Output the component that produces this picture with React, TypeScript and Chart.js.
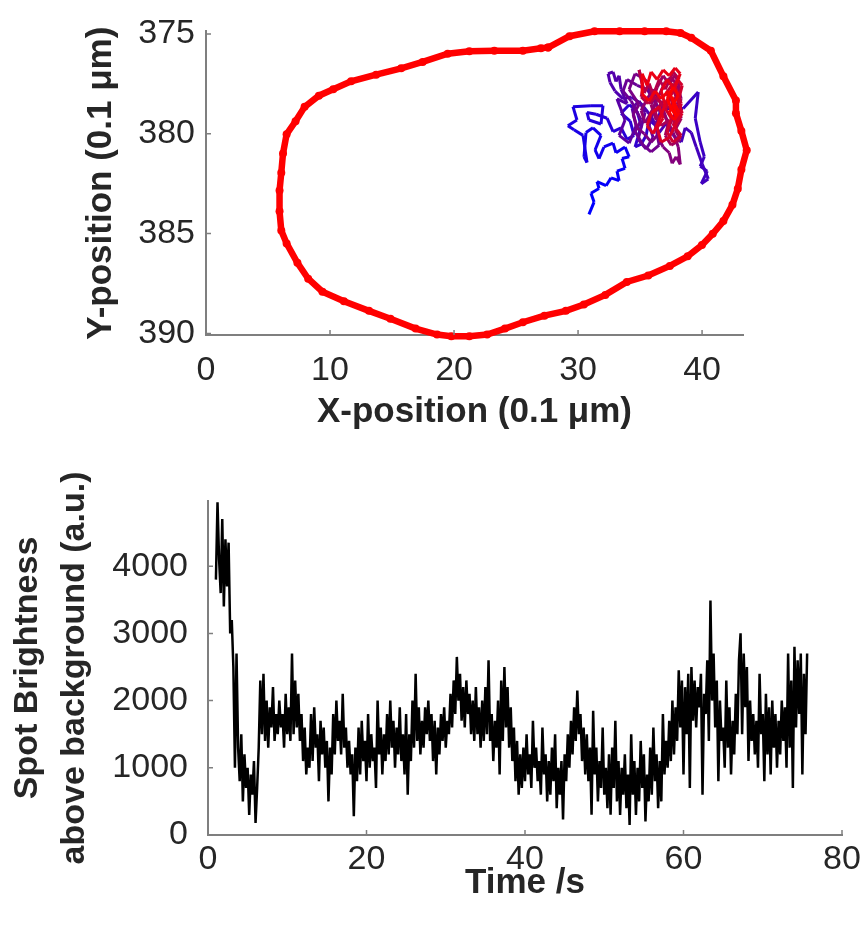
import React, { useEffect, useRef } from "react";
import { Chart, registerables } from "chart.js";
Chart.register(...registerables);

// ---------- Top panel: cell outline (red) ----------
const loopX = [27.58, 29.31, 31.33, 33.35, 35.37, 37.11, 38.26, 39.13, 40.71, 41.72, 42.73, 42.73, 43.17, 43.6, 43.17, 42.88, 42.45, 41.72, 40.86, 39.99, 38.84, 37.4, 35.66, 33.93, 32.2, 30.47, 29.02, 27.29, 25.55, 24.11, 22.67, 21.23, 19.78, 18.63, 16.9, 14.87, 13.14, 11.12, 9.39, 8.24, 7.37, 6.5, 6.07, 5.93, 5.93, 6.07, 6.21, 6.5, 7.22, 7.95, 9.1, 10.26, 11.7, 13.72, 15.74, 17.47, 19.49, 21.23, 23.25, 25.55, 27.0, 27.58];
const loopY = [375.68, 375.11, 374.86, 374.86, 374.86, 374.86, 374.95, 375.19, 375.84, 377.12, 378.33, 378.97, 379.86, 380.82, 381.79, 382.75, 383.56, 384.37, 385.01, 385.57, 386.14, 386.62, 387.1, 387.42, 388.07, 388.55, 388.87, 389.11, 389.44, 389.76, 390.06, 390.14, 390.14, 390.06, 389.76, 389.27, 388.87, 388.39, 387.91, 387.26, 386.46, 385.49, 384.85, 383.88, 382.84, 381.95, 380.99, 380.02, 379.37, 378.65, 378.09, 377.77, 377.37, 377.04, 376.72, 376.4, 375.99, 375.87, 375.84, 375.84, 375.71, 375.68];

// ---------- Top panel: spot trajectory (blue -> red in time) ----------
const trajX = [30.88, 31.29, 31.04, 31.69, 31.53, 32.26, 32.66, 33.31, 33.14, 33.79, 33.55, 34.12, 33.79, 33.06, 32.82, 32.09, 31.69, 31.37, 31.85, 31.2, 30.64, 30.48, 30.72, 30.4, 29.67, 29.18, 29.91, 29.59, 31.04, 32.01, 31.85, 30.88, 30.72, 31.45, 32.34, 32.82, 33.47, 33.95, 34.52, 34.2, 33.47, 34.12, 34.76, 35.09, 34.6, 35.09, 35.49, 35.73, 36.3, 36.7, 37.51, 38.48, 39.69, 39.45, 39.85, 40.18, 39.85, 40.42, 39.94, 40.5, 40.02, 39.53, 39.13, 38.64, 38.32, 37.67, 37.11, 36.54, 35.89, 35.09, 34.28, 33.63, 32.98, 32.58, 32.42, 32.82, 33.06, 33.31, 33.47, 33.95,
  33.14, 33.79, 33.31, 34.12, 34.68, 34.36, 34.92, 35.41, 34.84, 35.49, 36.06, 35.73, 36.22, 35.57, 34.76, 33.95, 33.63, 34.28, 35.09, 34.6, 35.25, 35.89, 36.54, 36.22, 36.7, 36.06, 35.41, 34.6, 34.12, 34.92,
  34.44, 34.76, 35.33, 35.89, 36.38, 36.86, 37.35, 37.59, 37.91, 38.24, 38.08, 37.67, 37.11, 36.7, 36.06, 35.57, 35.09, 35.41, 36.06, 36.54, 37.03, 37.51, 38.0, 38.32, 37.83, 37.35, 36.86, 36.3, 35.89, 36.38, 36.86, 37.35, 37.83, 38.24, 38.0, 38.32, 37.83, 38.24, 37.51, 37.03, 37.35, 36.7, 36.22, 36.86, 37.35, 37.91, 37.59, 38.16, 37.67, 37.03, 36.54, 36.06, 35.73, 35.33, 35.09, 34.92, 35.25, 35.09, 35.65, 36.3, 36.86, 37.35, 37.91, 38.16, 37.67, 38.0, 37.51, 37.11, 37.67, 38.0,
  38.32, 37.83, 38.32, 37.67, 37.19, 37.51, 37.03, 37.51, 38.0, 38.4, 38.08, 38.4, 37.91, 37.35, 36.7, 36.38, 36.86, 36.54, 35.89, 35.57, 36.06, 36.54, 37.03, 36.7, 37.19, 37.75, 38.24, 37.83, 37.35, 36.86, 36.38, 35.89, 35.57, 35.17, 35.17, 35.73, 36.22, 36.7, 37.27, 37.75, 38.16, 37.75, 37.35, 37.67, 38.08, 37.67, 37.19, 37.51, 37.91, 37.59];
const trajY = [384.04, 383.42, 382.98, 382.74, 382.4, 382.6, 382.21, 382.35, 381.87, 381.73, 381.24, 381.15, 380.66, 380.95, 380.47, 380.66, 381.24, 380.81, 380.08, 379.7, 379.94, 381.15, 381.44, 380.08, 379.8, 379.6, 379.31, 378.64, 378.59, 378.59, 379.51, 379.31, 378.93, 379.02, 379.22, 379.89, 379.7, 380.28, 380.08, 379.36, 378.97, 378.54, 378.88, 379.6, 380.66, 380.52, 380.08, 379.31, 379.6, 378.73, 378.73, 378.73, 377.91, 379.22, 380.42, 381.15, 381.63, 381.87, 382.5, 382.26, 381.53, 380.66, 379.94, 379.7, 380.42, 380.08, 379.46, 379.94, 379.12, 378.49, 378.15, 378.25, 377.86, 377.43, 376.99, 376.9, 377.38, 377.09, 377.77, 378.49,
  378.25, 379.31, 380.08, 380.47, 379.6, 378.73, 378.35, 378.93, 380.28, 380.76, 380.18, 379.6, 378.44, 377.77, 377.57, 377.28, 377.86, 378.35, 379.31, 379.89, 380.57, 380.91, 380.57, 379.51, 379.02, 378.15, 377.28, 376.99, 377.77, 378.54,
  379.02, 379.7, 379.99, 380.42, 380.08, 380.66, 380.95, 381.48, 381.15, 381.53, 380.66, 379.94, 379.22, 378.49, 377.77, 378.25, 378.83, 379.46, 378.73, 378.06, 377.38, 377.18, 377.57, 378.25, 378.97, 379.6, 378.93, 379.31, 378.54, 377.67, 377.09, 377.53, 377.04, 377.77, 378.54, 379.22, 379.8, 380.28, 380.57, 380.08, 379.31, 379.6, 378.93, 378.35, 378.73, 378.15, 377.67, 377.28, 376.9, 377.77, 377.28, 378.06, 377.48, 377.96, 377.28, 376.8, 377.67, 378.15, 378.49, 378.15, 378.64, 378.15, 378.64, 379.31, 379.6, 378.83, 378.35, 377.96, 377.48, 377.86,
  378.49, 379.7, 380.08, 380.42, 379.94, 379.22, 378.73, 378.06, 377.28, 377.57, 378.35, 378.97, 379.46, 380.18, 380.42, 379.7, 379.22, 378.64, 378.97, 379.6, 379.99, 379.31, 378.54, 377.86, 377.28, 377.77, 376.99, 376.7, 377.09, 376.8, 377.28, 376.9, 377.57, 376.99, 378.01, 378.35, 377.86, 378.25, 377.86, 378.44, 378.93, 379.31, 378.93, 378.54, 378.06, 377.67, 378.25, 378.73, 379.12, 378.15];

const topXTicks = [0, 10, 20, 30, 40];
const topYTicks = [375, 380, 385, 390];

// ---------- Bottom panel: spot brightness ----------
const brightnessStartTime = 1.0; // s
const frameInterval = 0.2; // s
const brightness = [
  3800, 4950, 4100, 3600, 4700, 3400, 4400, 3700, 4350, 3000,
  3200, 2500, 1000, 2700, 1300, 800, 1500, 500, 1200, 700,
  1000, 300, 900, 600, 1100, 180, 700, 1300, 2300, 1500,
  2400, 1400, 2000, 1300, 1900, 1600, 2200, 1400, 1800, 1500,
  2000, 1600, 1800, 1300, 2100, 1500, 1900, 1400, 2700, 1500,
  2300, 1600, 2100, 1400, 1800, 1100, 1600, 900, 1300, 1000,
  1800, 1100, 1900, 1300, 1500, 800, 1700, 1200, 1600, 1000,
  1400, 500, 1300, 900, 1800, 1200, 2000, 1400, 1700, 1200,
  2100, 1300, 1600, 1000, 1400, 900, 1200, 280, 1300, 800,
  1600, 900, 1700, 1100, 1400, 800, 1800, 1000, 1500, 1100,
  1300, 700, 2000, 1200, 1600, 900, 1500, 1100, 1800, 1200,
  2000, 1300, 1700, 1000, 1600, 1200, 1900, 1100, 1500, 900,
  1800, 600, 1500, 1100, 2000, 1300, 2400, 1400, 1900, 1200,
  1700, 1300, 1900, 1500, 2000, 1400, 1800, 1100, 1700, 900,
  1600, 1200, 1800, 1400, 1900, 1300, 1700, 1500, 2100, 1600,
  2300, 1800, 2650, 2000, 2400, 1700, 2200, 1600, 2300, 1800,
  2100, 1500, 2000, 1400, 2200, 1500, 1900, 1300, 2000, 1400,
  2200, 1500, 2600, 1400, 1800, 1100, 1700, 1300, 2000, 900,
  2300, 1400, 2500, 1600, 2200, 1300, 1900, 1100, 1600, 800,
  1400, 600, 1200, 700, 1300, 800, 1500, 900, 1200, 700,
  1700, 1000, 1300, 800, 1100, 600, 1600, 900, 1200, 500,
  1100, 600, 1300, 800, 1500, 400, 1000, 600, 1100, 230,
  1200, 800, 1500, 1000, 1700, 1200, 1900, 1400, 2150, 1500,
  1800, 1100, 1600, 900, 1500, 800, 1300, 300, 1850, 900,
  1300, 500, 1100, 700, 1600, 600, 1000, 400, 1200, 300,
  1300, 700, 1700, 500, 1100, 300, 1000, 600, 1200, 400,
  900, 150, 1500, 600, 1100, 300, 1000, 500, 1400, 700,
  1200, 200, 900, 500, 1300, 600, 1600, 800, 1200, 400,
  1100, 500, 1800, 900, 1400, 1000, 1700, 1100, 2000, 1200,
  1900, 1400, 2450, 1600, 2300, 900, 2200, 1500, 2400, 700,
  2500, 1700, 2300, 1600, 2200, 1900, 2400, 600, 2100, 1800,
  2600, 1400, 3490, 2000, 2700, 1600, 2300, 800, 2000, 1400,
  1600, 1000, 2300, 1300, 1900, 900, 1700, 1200, 2100, 1500,
  2600, 3000, 1500, 2700, 1900, 2500, 1100, 2000, 1400, 1800,
  1200, 1700, 1000, 2400, 1500, 1800, 800, 2100, 1200, 1900,
  900, 2000, 1300, 1800, 1000, 1700, 1200, 2000, 1400, 1900,
  1000, 2700, 1300, 2300, 700, 2800, 1600, 2600, 1800, 2700,
  900, 2400, 1500, 2700,
];
const bottomXTicks = [0, 20, 40, 60, 80];
const bottomYTicks = [0, 1000, 2000, 3000, 4000];

const FONT = '"Liberation Sans", Arial, Helvetica, sans-serif';
const TICK_COLOR = "#262626";
const AXIS_COLOR = "#7f7f7f";

const inwardTicks = {
  id: "inwardTicks",
  afterDraw(chart: any) {
    const { ctx, chartArea, scales } = chart;
    const xs = scales.x;
    const ys = scales.y;
    ctx.save();
    ctx.strokeStyle = AXIS_COLOR;
    ctx.lineWidth = 1.5;
    ctx.beginPath();
    xs.ticks.forEach((t: any) => {
      const px = xs.getPixelForValue(t.value);
      ctx.moveTo(px, chartArea.bottom);
      ctx.lineTo(px, chartArea.bottom - 5);
    });
    ys.ticks.forEach((t: any) => {
      const py = ys.getPixelForValue(t.value);
      ctx.moveTo(chartArea.left, py);
      ctx.lineTo(chartArea.left + 5, py);
    });
    ctx.stroke();
    ctx.restore();
  },
};

function setTicks(list: number[]) {
  return (s: any) => {
    s.ticks = list.map((v) => ({ value: v }));
  };
}

function baseScale(extra: any) {
  return {
    type: "linear",
    grid: { display: false, drawTicks: false },
    border: { display: true, color: AXIS_COLOR, width: 2 },
    ...extra,
  };
}

function trajColor(i: number) {
  const f = Math.min(1, i / (trajX.length - 2));
  const r = Math.round(255 * f);
  const b = Math.round(255 * (1 - f));
  return `rgb(${r},0,${b})`;
}

const plain = (v: any) => String(v);

export default function App() {
  const topRef = useRef<HTMLCanvasElement | null>(null);
  const botRef = useRef<HTMLCanvasElement | null>(null);

  useEffect(() => {
    const loopData = loopX.map((x, i) => ({ x, y: loopY[i] }));
    const trajData = trajX.map((x, i) => ({ x, y: trajY[i] }));
    const brightData = brightness.map((v, i) => ({
      x: brightnessStartTime + i * frameInterval,
      y: v,
    }));

    const top = new Chart(topRef.current as HTMLCanvasElement, {
      type: "scatter",
      data: {
        datasets: [
          {
            data: loopData,
            showLine: true,
            borderColor: "#ff0000",
            backgroundColor: "#ff0000",
            borderWidth: 6.5,
            pointRadius: 4,
            pointBorderWidth: 0,
            clip: false,
          } as any,
          {
            data: trajData,
            showLine: true,
            borderWidth: 3,
            pointRadius: 0,
            borderColor: "#0000ff",
            segment: { borderColor: (c: any) => trajColor(c.p0DataIndex) },
          } as any,
        ],
      },
      options: {
        animation: false,
        responsive: false,
        events: [],
        layout: { padding: { top: 20, right: 123, left: 0, bottom: 0 } },
        plugins: { legend: { display: false }, tooltip: { enabled: false } },
        scales: {
          x: baseScale({
            min: 0,
            max: 43.3,
            afterBuildTicks: setTicks(topXTicks),
            afterFit: (s: any) => { s.height = 105; },
            ticks: { font: { family: FONT, size: 34 }, color: TICK_COLOR, padding: 15, maxRotation: 0, autoSkip: false, callback: plain },
            title: {
              display: true,
              text: "X-position (0.1 μm)",
              font: { family: FONT, size: 35, weight: "bold" },
              color: TICK_COLOR,
              padding: { top: 0, bottom: 7 },
            },
          }),
          y: baseScale({
            reverse: true,
            min: 374.87,
            max: 390.08,
            afterBuildTicks: setTicks(topYTicks),
            afterFit: (s: any) => { s.width = 206; },
            ticks: { font: { family: FONT, size: 34 }, color: TICK_COLOR, padding: 11, callback: plain },
            title: {
              display: true,
              text: "Y-position (0.1 μm)",
              font: { family: FONT, size: 35, weight: "bold" },
              color: TICK_COLOR,
              padding: { top: 80, bottom: 0 },
            },
          }),
        },
      } as any,
      plugins: [inwardTicks],
    });

    const bottom = new Chart(botRef.current as HTMLCanvasElement, {
      type: "scatter",
      data: {
        datasets: [
          {
            data: brightData,
            showLine: true,
            borderColor: "#000000",
            backgroundColor: "#000000",
            borderWidth: 2.5,
            pointRadius: 0,
          } as any,
        ],
      },
      options: {
        animation: false,
        responsive: false,
        events: [],
        layout: { padding: { top: 61, right: 24, left: 0, bottom: 0 } },
        plugins: { legend: { display: false }, tooltip: { enabled: false } },
        scales: {
          x: baseScale({
            min: 0,
            max: 80,
            afterBuildTicks: setTicks(bottomXTicks),
            afterFit: (s: any) => { s.height = 96; },
            ticks: { font: { family: FONT, size: 34 }, color: TICK_COLOR, padding: 4, maxRotation: 0, autoSkip: false, callback: plain },
            title: {
              display: true,
              text: "Time /s",
              font: { family: FONT, size: 35, weight: "bold" },
              color: TICK_COLOR,
              padding: { top: 0, bottom: 27 },
            },
          }),
          y: baseScale({
            min: 0,
            max: 4970,
            afterBuildTicks: setTicks(bottomYTicks),
            afterFit: (s: any) => { s.width = 208; },
            ticks: { font: { family: FONT, size: 34 }, color: TICK_COLOR, padding: 20, callback: plain },
            title: {
              display: true,
              text: ["Spot Brightness", "above background (a.u.)"],
              font: { family: FONT, size: 34, weight: "bold", lineHeight: 1.38 },
              color: TICK_COLOR,
              padding: { top: 4, bottom: 0 },
            },
          }),
        },
      } as any,
      plugins: [inwardTicks],
    });

    return () => {
      top.destroy();
      bottom.destroy();
    };
  }, []);

  return (
    <div style={{ position: "absolute", left: 0, top: 0, width: 866, height: 931, background: "#ffffff" }}>
      <canvas ref={topRef} width={866} height={440} style={{ position: "absolute", left: 0, top: 0 }} />
      <canvas ref={botRef} width={866} height={491} style={{ position: "absolute", left: 0, top: 440 }} />
    </div>
  );
}
